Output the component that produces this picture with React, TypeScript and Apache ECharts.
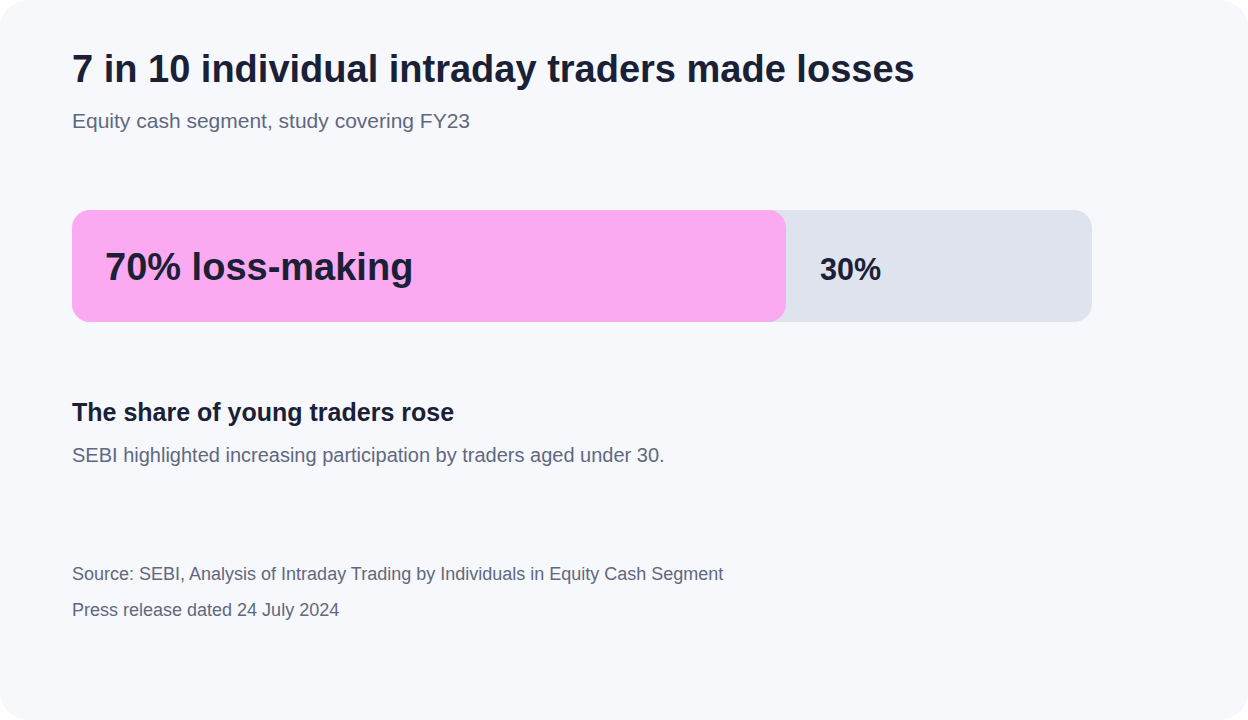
import React, { useEffect, useRef } from 'react';
import * as echarts from 'echarts';

const categories = ['Individual intraday traders'];
const lossShare = [70];
const otherShare = [30];
const lossLabel = '70% loss-making';
const otherLabel = '30%';

const title = '7 in 10 individual intraday traders made losses';
const subtitle = 'Equity cash segment, study covering FY23';
const noteTitle = 'The share of young traders rose';
const noteBody = 'SEBI highlighted increasing participation by traders aged under 30.';
const sourceLines = [
  'Source: SEBI, Analysis of Intraday Trading by Individuals in Equity Cash Segment',
  'Press release dated 24 July 2024',
];

const FONT = '"Liberation Sans", Arial, sans-serif';
const DARK = '#1a2136';
const MUTED = '#5f6880';

const text = (x: number, y: number, value: string, size: number, weight: number, fill: string) => ({
  type: 'text',
  x,
  y,
  style: {
    text: value,
    fontFamily: FONT,
    fontSize: size,
    fontWeight: weight,
    fill,
    textVerticalAlign: 'middle',
  },
});

export default function App() {
  const chartRef = useRef<HTMLDivElement>(null);

  useEffect(() => {
    if (!chartRef.current) return;
    document.body.style.margin = '0';
    const chart = echarts.init(chartRef.current, null, { renderer: 'svg' });

    chart.setOption({
      animation: false,
      backgroundColor: '#ffffff',
      grid: { left: 72, top: 210, width: 1020, height: 112 },
      xAxis: { type: 'value', min: 0, max: 100, show: false },
      yAxis: { type: 'category', data: categories, show: false },
      graphic: [
        {
          type: 'rect',
          shape: { x: 0, y: 0, width: 1248, height: 720, r: 28 },
          style: { fill: '#f6f8fc' },
        },
        text(72, 69, title, 38, 700, DARK),
        text(72, 120, subtitle, 21, 400, MUTED),
        text(72, 412, noteTitle, 25, 700, DARK),
        text(72, 455, noteBody, 20, 400, MUTED),
        text(72, 574, sourceLines[0], 18, 400, MUTED),
        text(72, 610, sourceLines[1], 18, 400, MUTED),
      ],
      series: [
        {
          // grey track runs under the pink bar, it shows at the rounded corners
          type: 'bar',
          data: [lossShare[0] + otherShare[0]],
          barWidth: 112,
          barGap: '-100%',
          itemStyle: { color: '#dfe3ed', borderRadius: 18 },
          label: {
            show: true,
            position: [748, 59],
            verticalAlign: 'middle',
            formatter: otherLabel,
            fontFamily: FONT,
            fontSize: 30.5,
            fontWeight: 700,
            color: DARK,
          },
          silent: true,
        },
        {
          type: 'bar',
          data: lossShare,
          barWidth: 112,
          itemStyle: { color: '#fbaaf2', borderRadius: 18 },
          label: {
            show: true,
            position: [33, 57],
            verticalAlign: 'middle',
            formatter: lossLabel,
            fontFamily: FONT,
            fontSize: 38,
            fontWeight: 700,
            color: DARK,
          },
          silent: true,
        },
      ],
    });

    return () => {
      chart.dispose();
    };
  }, []);

  return <div ref={chartRef} style={{ width: 1248, height: 720 }} />;
}
